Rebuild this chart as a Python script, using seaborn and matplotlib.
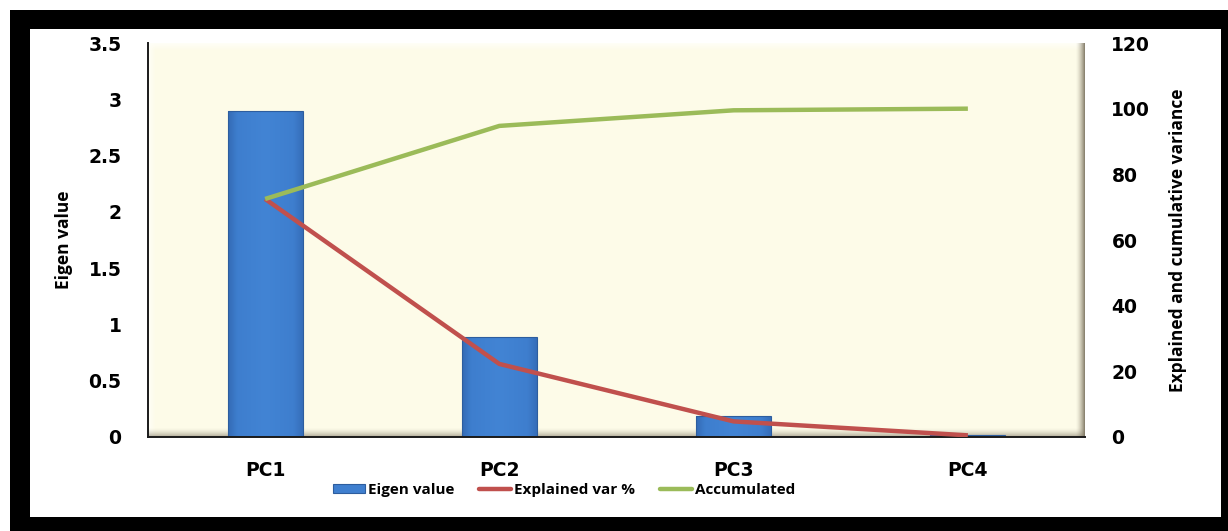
import numpy as np
import matplotlib
matplotlib.use("Agg")
import matplotlib.pyplot as plt
import seaborn as sns
import pandas as pd
from matplotlib.patches import Rectangle, Patch
from matplotlib.lines import Line2D

# PCA summary
components = ["PC1", "PC2", "PC3", "PC4"]
eigen_values = [2.90, 0.89, 0.19, 0.02]
explained_pct = [72.50, 22.25, 4.75, 0.50]
accumulated_pct = [72.50, 94.75, 99.50, 100.00]
left_ticks = [0, 0.5, 1, 1.5, 2, 2.5, 3, 3.5]
left_tick_labels = ["0", "0.5", "1", "1.5", "2", "2.5", "3", "3.5"]
right_ticks = [0, 20, 40, 60, 80, 100, 120]

BAR_BLUE = "#3f7fcf"
RED = "#c0504d"
GREEN = "#9bbb59"
LABEL_FONT = "Open Sans"
TEXT = "black"

sns.set_theme(style="white")
plt.rcParams["font.family"] = ["DejaVu Sans"]

W_PX, H_PX = 1228, 531
fig = plt.figure(figsize=(W_PX / 100, H_PX / 100), dpi=100)
fig.patch.set_facecolor("white")

# black frame with a white panel inside
fig.add_artist(Rectangle((10 / W_PX, 0), 1218 / W_PX, 521 / H_PX,
                         transform=fig.transFigure, facecolor="black",
                         edgecolor="none", zorder=-10))
fig.add_artist(Rectangle((30 / W_PX, 14 / H_PX), 1191 / W_PX, 488 / H_PX,
                         transform=fig.transFigure, facecolor="white",
                         edgecolor="none", zorder=-9))

ax = fig.add_axes([148 / W_PX, 94 / H_PX, 937 / W_PX, 394 / H_PX])
ax.set_facecolor("none")

# cream plot area with a bevelled edge
h, w = 394, 937
base = np.array([253, 251, 232], float) / 255
bg = np.ones((h, w, 3)) * base
yy, xx = np.mgrid[0:h, 0:w]
light = np.array([255, 255, 250], float) / 255
shade = np.array([120, 112, 92], float) / 255
top_t = np.clip(1 - yy / 7.0, 0, 1)[..., None]
left_t = np.clip(1 - xx / 7.0, 0, 1)[..., None]
right_t = np.clip(1 - (w - 1 - xx) / 9.0, 0, 1)[..., None] ** 1.6
bottom_t = np.clip(1 - (h - 1 - yy) / 9.0, 0, 1)[..., None] ** 1.6
bg = bg * (1 - 0.8 * top_t) + light * 0.8 * top_t
bg = bg * (1 - 0.8 * left_t) + light * 0.8 * left_t
bg = bg * (1 - 0.85 * right_t) + shade * 0.85 * right_t
bg = bg * (1 - 0.55 * bottom_t) + shade * 0.55 * bottom_t
ax.imshow(bg, extent=[0, 1, 0, 1], transform=ax.transAxes, aspect="auto",
          zorder=0, interpolation="bilinear")

df = pd.DataFrame({"component": components, "eigen": eigen_values})
sns.barplot(data=df, x="component", y="eigen", ax=ax, width=0.32,
            color=BAR_BLUE, saturation=1, edgecolor="#2d5d9e", linewidth=0.8)

# gentle horizontal shading across each bar
cols = np.array([[52, 108, 182], [62, 126, 206], [66, 132, 212],
                 [62, 126, 206], [54, 110, 186]], float) / 255
pos = np.array([0, 0.12, 0.5, 0.88, 1])
grad_x = np.linspace(0, 1, 64)
grad = np.stack([np.interp(grad_x, pos, cols[:, c]) for c in range(3)], -1)[None, :, :]
for bar in list(ax.patches):
    x0, y0 = bar.get_x(), bar.get_y()
    bw, bh = bar.get_width(), bar.get_height()
    im = ax.imshow(grad, extent=[x0, x0 + bw, y0, y0 + bh], aspect="auto",
                   zorder=1.5, interpolation="bilinear")
    im.set_clip_path(bar)
    bar.set_zorder(2)
    bar.set_facecolor("none")

ax.set_xlim(-0.5, 3.5)
ax.set_ylim(0, 3.5)
ax.set_yticks(left_ticks)
ax.set_yticklabels(left_tick_labels)
ax.set_xlabel("")
ax.set_ylabel("Eigen value", fontfamily=LABEL_FONT, fontweight="bold",
              fontsize=12.5, color=TEXT)
ax.yaxis.set_label_coords((73 - 148) / 937, 0.5)

for s in ["top", "right"]:
    ax.spines[s].set_visible(False)
for s in ["left", "bottom"]:
    ax.spines[s].set_color("#1a1a1a")
    ax.spines[s].set_linewidth(1.4)
    ax.spines[s].set_zorder(3)

ax.tick_params(axis="y", length=0, pad=19)
ax.tick_params(axis="x", length=0, pad=17)
for lab in ax.get_xticklabels() + ax.get_yticklabels():
    lab.set_fontweight("bold")
    lab.set_fontsize(13.5)
    lab.set_color(TEXT)

# percentage lines on the secondary axis
ax2 = ax.twinx()
x_pos = list(range(len(components)))
sns.lineplot(x=x_pos, y=explained_pct, ax=ax2, color=RED, linewidth=3.2,
             legend=False, solid_capstyle="butt")
sns.lineplot(x=x_pos, y=accumulated_pct, ax=ax2, color=GREEN, linewidth=3.2,
             legend=False, solid_capstyle="butt")
ax2.set_ylim(0, 120)
ax2.set_xlim(-0.5, 3.5)
ax2.set_yticks(right_ticks)
ax2.tick_params(axis="y", length=0, pad=19)
for lab in ax2.get_yticklabels():
    lab.set_fontweight("bold")
    lab.set_fontsize(13.5)
    lab.set_color(TEXT)
ax2.set_ylabel("Explained and cumulative variance", fontfamily=LABEL_FONT,
               fontweight="bold", fontsize=12.5, color=TEXT)
ax2.yaxis.set_label_coords((1169 - 148) / 937, 0.5)
for s in ax2.spines.values():
    s.set_visible(False)
ax2.grid(False)
ax.grid(False)

handles = [Patch(facecolor=BAR_BLUE, edgecolor="#2d5d9e", linewidth=0.8),
           Line2D([0], [0], color=RED, linewidth=3.2),
           Line2D([0], [0], color=GREEN, linewidth=3.2)]
labels = ["Eigen value", "Explained var %", "Accumulated"]
leg = fig.legend(handles, labels, loc="center",
                 bbox_to_anchor=(564 / W_PX, 41 / H_PX),
                 ncol=3, frameon=False,
                 prop=dict(family=LABEL_FONT, weight="bold", size=11),
                 handlelength=2.1, handleheight=0.45, handletextpad=0.2,
                 columnspacing=1.6, borderaxespad=0)
for t in leg.get_texts():
    t.set_color(TEXT)

fig.savefig("out.png", dpi=100, facecolor="white")
